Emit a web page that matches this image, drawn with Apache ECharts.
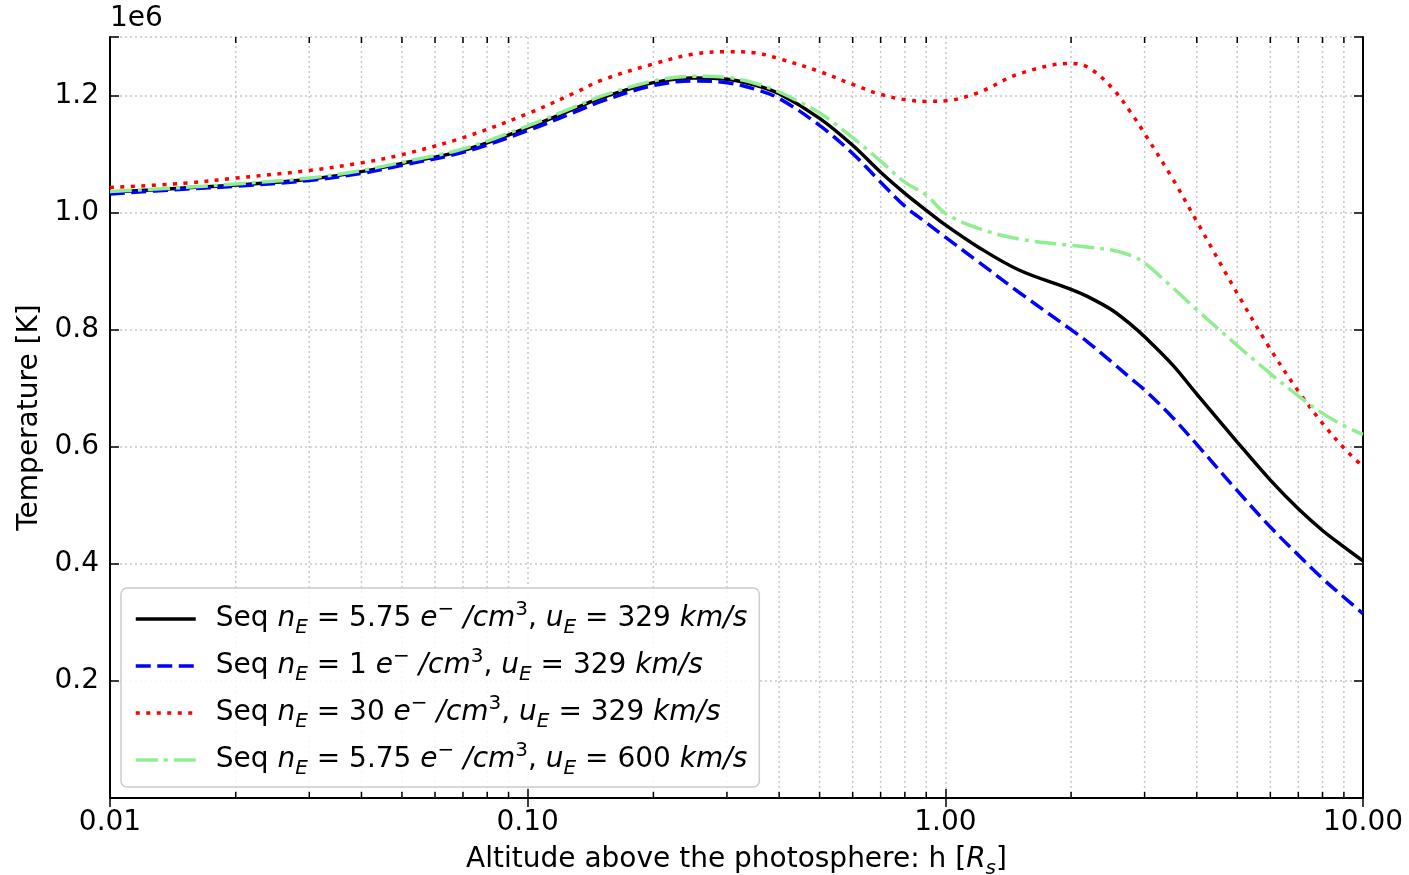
<!DOCTYPE html>
<html>
<head>
<meta charset="utf-8">
<script src="https://cdn.jsdelivr.net/npm/echarts@6/dist/echarts.min.js"></script>
<style>
html,body{margin:0;padding:0;background:#fff;}
#chart{width:1409px;height:875px;}
</style>
</head>
<body>
<div id="chart"></div>
<script>
// Altitude above the photosphere h [R_s]
const heights = [0.01, 0.015, 0.02, 0.03, 0.04, 0.05, 0.07, 0.1, 0.13, 0.15, 0.2, 0.25, 0.3, 0.35, 0.4, 0.5, 0.6, 0.7, 0.8, 0.9, 1.0, 1.2, 1.5, 2.0, 2.2, 2.5, 2.8, 3.0, 3.5, 4, 5, 6, 7, 8, 9, 10];
// Temperature in units of 1e6 K
const tempNe575u329 = [1.035, 1.042, 1.047, 1.057, 1.070, 1.084, 1.106, 1.145, 1.178, 1.196, 1.222, 1.230, 1.228, 1.218, 1.203, 1.161, 1.115, 1.069, 1.033, 1.004, 0.979, 0.941, 0.902, 0.869, 0.856, 0.834, 0.807, 0.788, 0.740, 0.690, 0.608, 0.543, 0.494, 0.457, 0.429, 0.405];
const tempNe1u329    = [1.032, 1.040, 1.045, 1.055, 1.067, 1.081, 1.103, 1.140, 1.172, 1.190, 1.217, 1.225, 1.222, 1.211, 1.195, 1.149, 1.101, 1.052, 1.011, 0.983, 0.958, 0.916, 0.864, 0.800, 0.778, 0.745, 0.715, 0.697, 0.650, 0.604, 0.525, 0.463, 0.415, 0.375, 0.343, 0.315];
const tempNe30u329   = [1.043, 1.050, 1.059, 1.072, 1.085, 1.099, 1.128, 1.169, 1.205, 1.226, 1.254, 1.271, 1.275, 1.273, 1.263, 1.241, 1.219, 1.202, 1.193, 1.190, 1.191, 1.205, 1.237, 1.255, 1.248, 1.214, 1.168, 1.135, 1.058, 0.985, 0.862, 0.767, 0.695, 0.640, 0.598, 0.566];
const tempNe575u600  = [1.036, 1.043, 1.049, 1.059, 1.072, 1.086, 1.109, 1.148, 1.181, 1.199, 1.225, 1.233, 1.231, 1.221, 1.206, 1.170, 1.128, 1.088, 1.052, 1.030, 0.999, 0.973, 0.955, 0.944, 0.941, 0.936, 0.926, 0.914, 0.872, 0.834, 0.773, 0.725, 0.687, 0.657, 0.636, 0.621];

const seriesNames = [
  'Seq nE = 5.75 e⁻/cm³, uE = 329 km/s',
  'Seq nE = 1 e⁻/cm³, uE = 329 km/s',
  'Seq nE = 30 e⁻/cm³, uE = 329 km/s',
  'Seq nE = 5.75 e⁻/cm³, uE = 600 km/s'
];
const legendRich = [
  '{n|Seq }{i|n}{sub|E}{n| = 5.75 }{i|e}{sup|−}{i| /cm}{sup|3}{n|, }{i|u}{sub|E}{n| = 329 }{i|km/s}',
  '{n|Seq }{i|n}{sub|E}{n| = 1 }{i|e}{sup|−}{i| /cm}{sup|3}{n|, }{i|u}{sub|E}{n| = 329 }{i|km/s}',
  '{n|Seq }{i|n}{sub|E}{n| = 30 }{i|e}{sup|−}{i| /cm}{sup|3}{n|, }{i|u}{sub|E}{n| = 329 }{i|km/s}',
  '{n|Seq }{i|n}{sub|E}{n| = 5.75 }{i|e}{sup|−}{i| /cm}{sup|3}{n|, }{i|u}{sub|E}{n| = 600 }{i|km/s}'
];
const seriesData = [tempNe575u329, tempNe1u329, tempNe30u329, tempNe575u600];
const xTickValues = [0.01, 0.1, 1, 10];
const yTickValues = [0.2, 0.4, 0.6, 0.8, 1.0, 1.2];

const X_MIN = 0.01, X_MAX = 10, Y_MIN = 0, Y_MAX = 1.3;
const FONT = 'DejaVu Sans';
const FS = 28;
const colors = ['#000000', '#0000ff', '#ff0000', '#90ee90'];
const dashes = ['solid', [15, 6.5], [4, 6.5], [22, 6, 4, 6]];

// minor tick positions 2..9 per decade
const minorTicks = [];
for (let d = -2; d < 1; d++) {
  for (let k = 2; k <= 9; k++) minorTicks.push([k * Math.pow(10, d), 0]);
}

const chart = echarts.init(document.getElementById('chart'), null, {renderer: 'canvas'});

const richStyles = {
  n: {fontSize: FS, fontFamily: FONT, color: '#000', lineHeight: 38},
  i: {fontSize: FS, fontFamily: FONT, color: '#000', fontStyle: 'italic', lineHeight: 38},
  sub: {fontSize: 20, fontFamily: FONT, color: '#000', fontStyle: 'italic', lineHeight: 20, verticalAlign: 'bottom'},
  sup: {fontSize: 20, fontFamily: FONT, color: '#000', lineHeight: 20, verticalAlign: 'top'}
};

const gridLine = {show: true, lineStyle: {color: '#c8c8c8', width: 1.5, type: [2, 3]}};

const lineSeries = seriesNames.map((name, s) => ({
  name: name,
  type: 'line',
  data: heights.map((h, i) => [h, seriesData[s][i]]),
  showSymbol: false,
  symbol: 'none',
  smooth: 0.35,
  clip: true,
  z: 3,
  lineStyle: {color: colors[s], width: 3.5, type: dashes[s], cap: 'butt'},
  itemStyle: {color: colors[s]},
  emphasis: {disabled: true}
}));

const option = {
  animation: false,
  backgroundColor: '#ffffff',
  grid: {left: 110, right: 46, top: 37, bottom: 77, containLabel: false, outerBoundsMode: 'none'},
  graphic: [{
    type: 'text', left: 110, top: 5,
    style: {text: '1e6', fontSize: FS, fontFamily: FONT, fill: '#000'}
  }],
  legend: {
    data: seriesNames,
    orient: 'vertical',
    left: 121, top: 588,
    padding: [12, 12, 8, 13],
    itemGap: 9,
    itemWidth: 60,
    itemHeight: 14,
    backgroundColor: 'rgba(255,255,255,0.85)',
    borderColor: '#cccccc',
    borderWidth: 1.5,
    borderRadius: 6,
    selectedMode: false,
    itemStyle: {opacity: 0, borderWidth: 0},
    lineStyle: {width: 3.5},
    formatter: (name) => legendRich[seriesNames.indexOf(name)],
    textStyle: {fontSize: FS, fontFamily: FONT, color: '#000', padding: [0, 0, 0, 15], rich: richStyles}
  },
  xAxis: [{
    type: 'log', logBase: 10, min: X_MIN, max: X_MAX,
    position: 'bottom',
    axisLine: {show: true, lineStyle: {color: '#000', width: 2}},
    axisTick: {show: true, inside: true, length: 9, lineStyle: {color: '#000', width: 1.5}},
    axisLabel: {show: true, margin: 11, fontSize: FS, fontFamily: FONT, color: '#000',
      showMinLabel: true, showMaxLabel: true,
      formatter: (v) => xTickValues.some(t => Math.abs(t - v) / t < 1e-6) ? v.toFixed(2) : ''},
    splitLine: gridLine,
    minorTick: {show: false},
    name: 'Altitude above the photosphere: h [{i|R}{sub|s}]',
    nameLocation: 'middle', nameGap: 43,
    nameTextStyle: {fontSize: FS, fontFamily: FONT, color: '#000', rich: richStyles}
  }, {
    type: 'log', logBase: 10, min: X_MIN, max: X_MAX,
    position: 'top',
    axisLine: {show: true, lineStyle: {color: '#000', width: 2}},
    axisTick: {show: true, inside: true, length: 9, lineStyle: {color: '#000', width: 1.5}},
    axisLabel: {show: false},
    splitLine: {show: false}
  }],
  yAxis: [{
    type: 'value', min: Y_MIN, max: Y_MAX, interval: 0.2,
    position: 'left',
    axisLine: {show: true, lineStyle: {color: '#000', width: 2}},
    axisTick: {show: true, inside: true, length: 9, lineStyle: {color: '#000', width: 1.5}},
    axisLabel: {margin: 11, fontSize: FS, fontFamily: FONT, color: '#000',
      formatter: (v) => yTickValues.some(t => Math.abs(t - v) < 1e-6) ? v.toFixed(1) : ''},
    splitLine: gridLine,
    name: 'Temperature [K]',
    nameLocation: 'middle', nameGap: 64, nameRotate: 90,
    nameTextStyle: {fontSize: FS, fontFamily: FONT, color: '#000'}
  }, {
    type: 'value', min: Y_MIN, max: Y_MAX, interval: 0.2,
    position: 'right',
    axisLine: {show: true, lineStyle: {color: '#000', width: 2}},
    axisTick: {show: true, inside: true, length: 9, lineStyle: {color: '#000', width: 1.5}},
    axisLabel: {show: false},
    splitLine: {show: false}
  }],
  series: [{
    type: 'custom',
    name: 'minor',
    xAxisIndex: 0, yAxisIndex: 0,
    silent: true,
    z: 1,
    clip: false,
    data: minorTicks,
    renderItem: (params, api) => {
      const v = api.value(0);
      const b = api.coord([v, Y_MIN]);
      const t = api.coord([v, Y_MAX]);
      return {type: 'group', children: [
        {type: 'line', shape: {x1: b[0], y1: b[1], x2: b[0], y2: t[1]}, style: {stroke: '#c8c8c8', lineWidth: 1.5, lineDash: [2, 3]}},
        {type: 'line', shape: {x1: b[0], y1: b[1], x2: b[0], y2: b[1] - 6}, style: {stroke: '#000', lineWidth: 1.5}},
        {type: 'line', shape: {x1: b[0], y1: t[1], x2: b[0], y2: t[1] + 6}, style: {stroke: '#000', lineWidth: 1.5}}
      ]};
    }
  }].concat(lineSeries)
};
chart.setOption(option);
</script>
</body>
</html>
